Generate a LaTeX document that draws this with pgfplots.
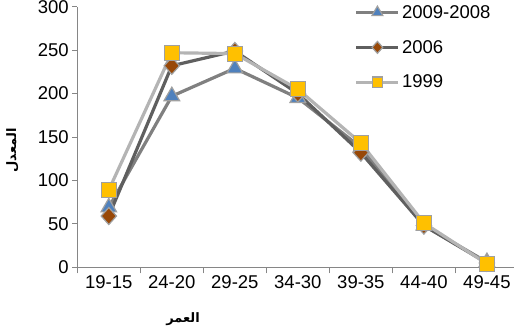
\documentclass[border=0pt]{standalone}
\usepackage{pgfplots}
\pgfplotsset{compat=1.18}
\usepackage{fontspec}
\setmainfont{Liberation Sans}
\newfontfamily\arabicfont[Script=Arabic]{DejaVu Sans}
\TeXXeTstate=1
\definecolor{axgray}{HTML}{868686}
\definecolor{lA}{HTML}{808080}
\definecolor{lB}{HTML}{5F5F5F}
\definecolor{lC}{HTML}{B4B4B4}
\definecolor{mA}{HTML}{4F81BD}
\definecolor{mB}{HTML}{984807}
\definecolor{mC}{HTML}{FFC000}
\definecolor{medge}{HTML}{A0A0A0}
\begin{document}
\begin{tikzpicture}
\path[use as bounding box] (-77.3pt,-60.7pt) rectangle (436.7pt,267.3pt);
\begin{axis}[
  scale only axis,
  width=436.7pt, height=260.6pt,
  xmin=-0.5, xmax=6.43, ymin=0, ymax=300,
  axis x line*=bottom, axis y line*=left,
  axis line style={axgray, line width=0.8pt},
  xtick={0,...,6},
  xticklabels={19-15,24-20,29-25,34-30,39-35,44-40,49-45},
  minor xtick={-0.5,0.5,...,6.5},
  ytick={0,50,...,300},
  tick align=outside,
  major x tick style={draw=none},
  minor tick length=6pt,
  major tick length=5pt,
  tick style={axgray, line width=0.8pt},
  every tick label/.append style={font=\fontsize{18.5}{22}\selectfont},
  /pgf/number format/assume math mode=true,
  clip=false,
  legend style={at={(0.635,1.014)}, anchor=north west, draw=none, fill=none,
    font=\fontsize{18.5}{22}\selectfont, row sep=16.5pt, inner sep=0pt},
  legend cell align=left,
  legend image code/.code={\draw[mark repeat=2,mark phase=2,every mark/.append style={scale=0.7}] plot coordinates {(0pt,0pt)(21pt,0pt)(42pt,0pt)};},
]
\addplot[lA, line width=3.2pt, mark=triangle*, mark size=9pt, mark options={fill=mA, draw=medge, line width=1.2pt}]
  coordinates {(0,69)(1,197)(2,229)(3,195)(4,138)(5,48)(6,6)};
\addlegendentry{2009-2008}
\addplot[lB, line width=3.2pt, mark=diamond*, mark size=8.5pt, mark options={fill=mB, draw=medge, line width=1.2pt, xscale=1.2}]
  coordinates {(0,59)(1,232)(2,249)(3,200)(4,132)(5,48)(6,5)};
\addlegendentry{2006}
\addplot[lC, line width=3.2pt, mark=square*, mark size=7.5pt, mark options={fill=mC, draw=medge, line width=1.2pt}]
  coordinates {(0,89)(1,247)(2,246)(3,205)(4,143)(5,51)(6,4)};
\addlegendentry{1999}
\end{axis}
\node[rotate=90] at (-65pt,117pt) {\arabicfont\bfseries\fontsize{13}{15}\selectfont\beginR المعدل\endR};
\node at (105.7pt,-52pt) {\arabicfont\bfseries\fontsize{13}{15}\selectfont\beginR العمر\endR};
\end{tikzpicture}
\end{document}
